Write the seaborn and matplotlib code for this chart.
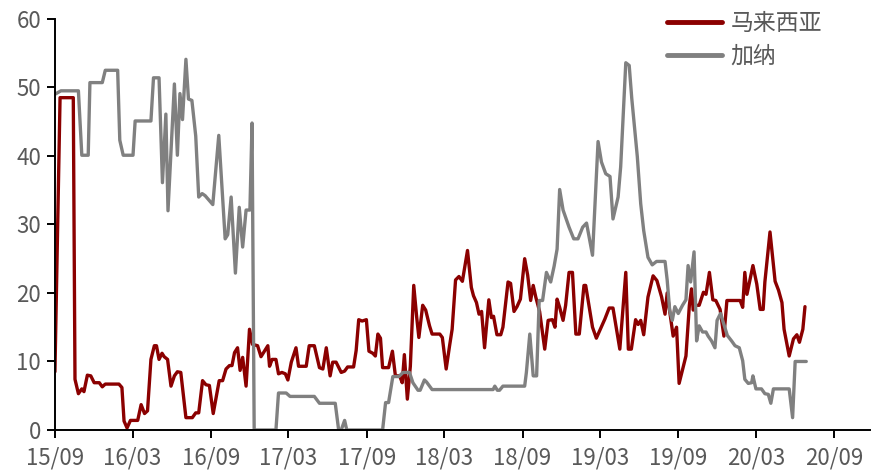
# -*- coding: utf-8 -*-
"""
    马来西亚 / 加纳 周度数据走势图
"""
import pandas as pd
import matplotlib
matplotlib.use('Agg')
import matplotlib.pyplot as plt
import matplotlib.dates as mdates
import seaborn as sns

# ---------------- 数据 ----------------
my_dates = ['2015-09-01', '2015-09-13', '2015-10-14', '2015-10-18', '2015-10-26', '2015-11-03', '2015-11-08',
            '2015-11-16', '2015-11-24', '2015-12-02', '2015-12-14', '2015-12-21', '2015-12-28',
            '2016-01-29', '2016-02-05', '2016-02-10', '2016-02-17', '2016-02-25', '2016-03-13', '2016-03-21',
            '2016-03-29', '2016-04-05', '2016-04-13', '2016-04-21', '2016-04-26', '2016-05-02', '2016-05-09',
            '2016-05-14', '2016-05-22', '2016-05-30', '2016-06-07', '2016-06-14', '2016-06-22', '2016-07-04',
            '2016-07-19', '2016-07-27', '2016-08-03', '2016-08-12', '2016-08-20', '2016-08-28', '2016-09-06',
            '2016-09-20', '2016-09-28', '2016-10-06', '2016-10-14', '2016-10-20', '2016-10-26', '2016-11-02',
            '2016-11-08', '2016-11-14', '2016-11-22', '2016-11-30', '2016-12-07', '2016-12-19', '2016-12-27',
            '2017-01-12', '2017-01-16', '2017-01-22', '2017-01-31', '2017-02-06', '2017-02-14', '2017-02-22',
            '2017-02-28', '2017-03-08', '2017-03-19', '2017-03-25', '2017-04-02', '2017-04-12', '2017-04-19',
            '2017-05-01', '2017-05-13', '2017-05-21', '2017-05-29', '2017-06-07', '2017-06-13', '2017-06-21',
            '2017-07-03', '2017-07-11', '2017-07-18', '2017-08-01', '2017-08-07', '2017-08-13', '2017-08-21',
            '2017-08-31', '2017-09-06', '2017-09-15', '2017-09-21', '2017-09-27', '2017-10-03', '2017-10-08',
            '2017-10-22', '2017-10-31', '2017-11-07', '2017-11-17', '2017-11-23', '2017-11-28', '2017-12-05',
            '2017-12-12', '2017-12-20', '2017-12-27',
            '2018-01-01', '2018-01-10', '2018-01-17', '2018-01-26', '2018-02-01', '2018-02-19', '2018-02-25',
            '2018-03-06', '2018-03-14', '2018-03-20', '2018-03-28', '2018-04-05', '2018-04-13', '2018-04-25',
            '2018-05-04', '2018-05-09', '2018-05-16', '2018-05-22', '2018-05-28', '2018-06-04', '2018-06-14',
            '2018-06-20', '2018-06-25', '2018-07-03', '2018-07-12', '2018-07-17', '2018-07-29', '2018-08-04',
            '2018-08-12', '2018-08-19', '2018-08-27', '2018-09-06', '2018-09-13', '2018-09-20', '2018-09-26',
            '2018-10-02', '2018-10-11', '2018-10-23', '2018-10-31', '2018-11-10', '2018-11-16', '2018-11-21',
            '2018-11-27', '2018-12-05', '2018-12-11', '2018-12-19', '2018-12-27',
            '2019-01-04', '2019-01-12', '2019-01-23', '2019-01-27', '2019-02-12', '2019-02-21', '2019-03-13',
            '2019-03-23', '2019-04-01', '2019-04-17', '2019-05-01', '2019-05-07', '2019-05-14', '2019-05-24',
            '2019-05-30', '2019-06-05', '2019-06-12', '2019-06-22', '2019-07-04', '2019-07-13', '2019-07-24',
            '2019-08-01', '2019-08-06', '2019-08-12', '2019-08-20', '2019-08-28', '2019-09-03', '2019-09-19',
            '2019-09-27', '2019-10-02', '2019-10-06', '2019-10-12', '2019-10-20', '2019-10-30', '2019-11-05',
            '2019-11-13', '2019-11-21', '2019-11-28', '2019-12-08', '2019-12-17', '2019-12-24',
            '2020-01-24', '2020-01-30', '2020-02-04', '2020-02-09', '2020-02-23', '2020-03-03', '2020-03-11',
            '2020-03-18', '2020-03-22', '2020-04-03', '2020-04-15', '2020-04-23', '2020-05-01', '2020-05-06',
            '2020-05-18', '2020-05-28', '2020-06-05', '2020-06-11', '2020-06-19', '2020-06-24']
my_values = [8.5, 48.5, 48.5, 7.4, 5.3, 6.0, 5.6, 8.0, 7.9, 6.9, 6.9, 6.3, 6.7,
             6.7, 6.2, 1.3, 0.3, 1.4, 1.4, 3.7, 2.4, 2.8,
             10.3, 12.3, 12.3, 10.3, 11.2, 10.7, 10.3, 6.4, 7.9, 8.5, 8.4,
             1.8, 1.8, 2.5, 2.5, 7.2, 6.6, 6.5,
             2.4, 7.2, 7.2, 8.9, 9.4, 9.4, 11.3, 12.0, 8.7, 10.6, 6.4, 14.7, 12.5, 12.3, 10.7,
             12.3, 9.3, 10.3, 10.3, 8.2, 8.4, 8.2, 7.3, 9.9, 12.0, 9.3,
             9.3, 9.3, 12.3, 12.3, 9.1, 8.9, 12.0, 7.9, 9.9, 9.9, 8.4, 8.6, 9.2, 9.2,
             11.6, 16.1, 15.9, 16.1, 11.5, 11.2, 10.8, 14.0, 13.4, 9.1, 9.1, 11.5, 7.9, 7.9, 6.9, 11.0, 4.5, 9.3,
             21.1, 16.4,
             13.5, 18.2, 17.5, 15.2, 14.0, 14.0, 13.5, 8.9, 12.3, 14.7, 21.9, 22.4, 21.7, 26.2, 20.8, 19.6, 18.6,
             16.9, 17.3, 12.0,
             19.0, 16.4, 16.6, 13.9, 13.9, 15.0, 21.6, 21.4, 17.3, 18.0, 19.1, 25.0, 22.6, 18.9, 21.1, 19.4, 17.3,
             11.8, 16.0, 16.1,
             15.0, 19.1, 17.9, 16.0, 18.2, 23.0, 23.0, 14.0, 14.0, 21.1, 21.1, 15.0, 13.4,
             16.2, 17.8, 17.8, 11.8, 23.0, 11.8, 11.8, 16.1, 15.4, 16.0, 13.9, 19.4, 22.5, 21.8, 19.4, 16.9, 20.0,
             17.3, 13.7, 15.0,
             6.8, 10.8, 18.2, 20.6, 17.5, 18.2, 18.2, 20.1, 19.8, 23.0, 19.0, 18.9, 17.6, 13.7, 18.9, 18.9, 17.9,
             23.0, 19.8, 24.0, 21.3, 17.6, 17.6, 21.6, 28.9, 21.7, 20.4, 18.6, 14.7, 10.8, 13.3, 13.9, 12.8, 14.7,
             18.0]

gh_dates = ['2015-09-01', '2015-09-15', '2015-10-26', '2015-11-03', '2015-11-18', '2015-11-22', '2015-12-21',
            '2015-12-28', '2016-01-26', '2016-01-31', '2016-02-08', '2016-03-02', '2016-03-07', '2016-04-13',
            '2016-04-19', '2016-05-02', '2016-05-10', '2016-05-18', '2016-05-23', '2016-06-07', '2016-06-14',
            '2016-06-20', '2016-06-26', '2016-07-04', '2016-07-10', '2016-07-18', '2016-07-27', '2016-08-03',
            '2016-08-11', '2016-08-18', '2016-09-05', '2016-09-19', '2016-10-04', '2016-10-10', '2016-10-18',
            '2016-10-28', '2016-11-06', '2016-11-14', '2016-11-22', '2016-12-01', '2016-12-06', '2016-12-11',
            '2017-01-31', '2017-02-06', '2017-02-24', '2017-03-05', '2017-05-01', '2017-05-13', '2017-06-19',
            '2017-06-27', '2017-07-03', '2017-07-11', '2017-07-16', '2017-10-08', '2017-10-15', '2017-10-22',
            '2017-11-01', '2017-11-15', '2017-11-25', '2017-12-10', '2017-12-18', '2017-12-30',
            '2018-01-04', '2018-01-14', '2018-01-19', '2018-02-01', '2018-06-24', '2018-06-28', '2018-07-04',
            '2018-07-09', '2018-07-17', '2018-09-06', '2018-09-10', '2018-09-18', '2018-09-26', '2018-10-04',
            '2018-10-10', '2018-10-18', '2018-10-27', '2018-11-06', '2018-11-14', '2018-11-21', '2018-11-27',
            '2018-12-05', '2018-12-19', '2018-12-30',
            '2019-01-09', '2019-01-20', '2019-01-29', '2019-02-06', '2019-02-12', '2019-02-25', '2019-03-05',
            '2019-03-15', '2019-03-25', '2019-04-01', '2019-04-13', '2019-04-19', '2019-05-01', '2019-05-09',
            '2019-05-15', '2019-05-28', '2019-06-05', '2019-06-12', '2019-06-22', '2019-07-02', '2019-07-12',
            '2019-08-01', '2019-08-06', '2019-08-12', '2019-08-18', '2019-08-24', '2019-09-01', '2019-09-11',
            '2019-09-19', '2019-09-24', '2019-09-30', '2019-10-08', '2019-10-14', '2019-10-20', '2019-10-28',
            '2019-11-05', '2019-11-10', '2019-11-18', '2019-11-26', '2019-12-01', '2019-12-09', '2019-12-17',
            '2019-12-25',
            '2020-01-04', '2020-01-12', '2020-01-22', '2020-01-30', '2020-02-04', '2020-02-12', '2020-02-20',
            '2020-02-23', '2020-03-01', '2020-03-14', '2020-03-22', '2020-03-30', '2020-04-05', '2020-04-11',
            '2020-05-18', '2020-05-26', '2020-06-01', '2020-06-27']
gh_values = [49.0, 49.5, 49.5, 40.1, 40.1, 50.7, 50.7, 52.5, 52.5, 42.3,
             40.1, 40.1, 45.1, 45.1, 51.4, 51.4, 36.1, 46.1, 32.0, 50.5,
             40.1, 49.1, 45.3, 54.1, 48.3, 48.1, 42.9, 34.0, 34.5, 34.2,
             32.9, 43.0, 27.9, 28.5, 34.0, 22.9, 32.5, 26.7, 32.1, 32.1,
             44.8, 0, 0, 5.4, 5.4, 4.9, 4.9, 3.9, 3.9, 0,
             0, 1.4, 0, 0, 4.0, 4.0, 7.8, 7.8, 8.4, 8.4,
             6.9, 5.8, 5.8, 7.3, 7.0, 5.9, 5.9, 6.4, 5.8, 5.8,
             6.4, 6.4, 8.4, 14.0, 7.9, 7.9, 18.9, 18.9, 23.0, 21.6,
             23.9, 26.4, 35.1, 32.1, 29.6, 27.9, 27.9, 29.6, 30.2, 27.5,
             25.5, 42.1, 39.1, 37.4, 37.0, 30.8, 34.0, 38.4, 53.6, 53.2,
             48.4, 39.9, 33.0, 29.1, 25.2, 24.1, 24.6, 24.6, 21.9, 17.4,
             16.0, 18.0, 17.0, 18.2, 19.0, 24.0, 21.6, 26.0, 13.0, 15.2,
             14.3, 14.3, 13.7, 13.0, 12.0, 16.0, 17.0, 15.4, 13.8, 13.0,
             12.3, 12.0, 10.1, 7.4, 6.8, 6.9, 7.9, 6.0, 6.0, 5.3,
             5.2, 3.9, 6.0, 6.0, 1.8, 10.0, 10.0]

series_names = ['马来西亚', '加纳']
y_ticks = [0, 10, 20, 30, 40, 50, 60]


def main():
    sns.set_style('ticks')
    # 中文字体 (set_style 之后再设)
    plt.rcParams['font.family'] = ['Noto Sans CJK SC', 'DejaVu Sans']
    plt.rcParams['axes.unicode_minus'] = False

    my_df = pd.DataFrame({'date': pd.to_datetime(my_dates), 'value': my_values})
    gh_df = pd.DataFrame({'date': pd.to_datetime(gh_dates), 'value': gh_values})

    fig = plt.figure(figsize=(8.72, 4.72), dpi=100)
    ax = fig.add_axes([0.063, 0.089, 0.935, 0.871])

    sns.lineplot(data=my_df, x='date', y='value', ax=ax, color='#8B0000', lw=2.4, label=series_names[0])
    sns.lineplot(data=gh_df, x='date', y='value', ax=ax, color='#808080', lw=2.4, label=series_names[1])

    ax.set_ylim(0, 60)
    ax.set_yticks(y_ticks)
    ax.set_xlim(pd.Timestamp('2015-09-01'), pd.Timestamp('2020-11-24'))
    ax.xaxis.set_major_locator(mdates.MonthLocator(bymonth=[3, 9]))
    ax.xaxis.set_major_formatter(mdates.DateFormatter('%y/%m'))
    ax.set_xlabel('')
    ax.set_ylabel('')

    sns.despine(ax=ax)
    for s in ['left', 'bottom']:
        ax.spines[s].set_linewidth(1.4)
        ax.spines[s].set_color('black')
    ax.tick_params(axis='both', colors='black', width=1.4, labelsize=16, labelcolor='#595959')
    ax.tick_params(axis='x', length=6, pad=6)
    ax.tick_params(axis='y', length=6, pad=4)

    leg = ax.legend(loc='upper left', bbox_to_anchor=(0.765, 0.974), bbox_transform=fig.transFigure,
                    frameon=False, fontsize=16.5, handlelength=2.4, handletextpad=0.37,
                    labelspacing=0.42, borderpad=0, borderaxespad=0)
    for t in leg.get_texts():
        t.set_color('#595959')
    for h in leg.get_lines():
        h.set_linewidth(3.5)

    fig.savefig('out.png', dpi=100)


if __name__ == '__main__':
    main()
